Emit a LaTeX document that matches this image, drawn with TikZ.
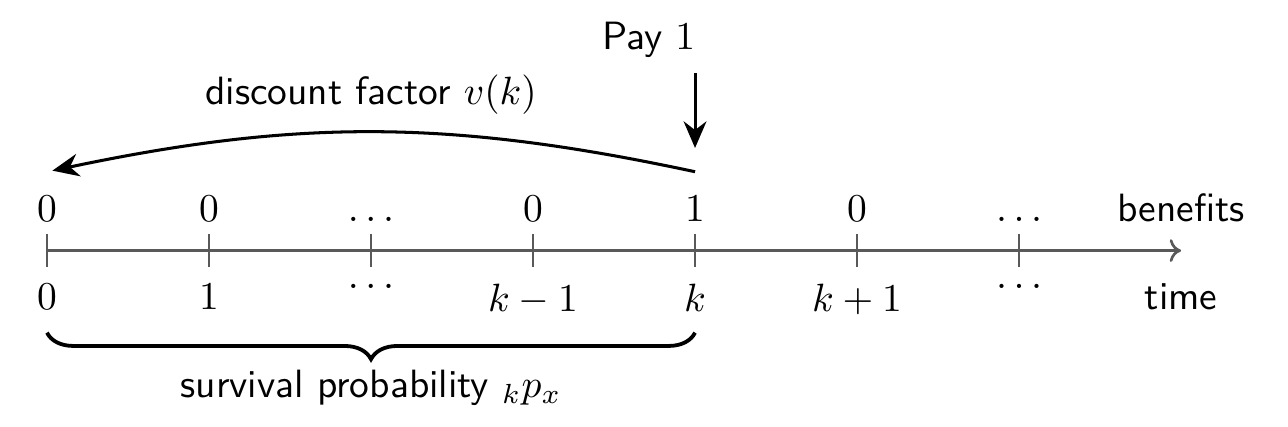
\documentclass[tikz,border=0pt]{standalone}
\usetikzlibrary{arrows.meta, decorations.pathreplacing}

\begin{document}
\begin{tikzpicture}[x=1cm,y=1cm,font=\sffamily,every node/.append style={scale=1.04}]
\useasboundingbox (-0.4350,-1.6300) rectangle (11.4900,2.3200);
\tikzset{axisline/.style={draw=black!65, line width=0.7pt},
  bigarrow/.style={line width=0.8pt, -{Stealth[length=7pt,width=6pt]}}}
% time axis
\coordinate (axstart) at (0,0);
\coordinate (axend) at (10.5000,0);
\draw[axisline, -{To[length=3pt,width=6pt]}] (axstart) -- (axend);
\draw[axisline] (0.0000,-0.1500) -- (0.0000,0.1500);
\draw[axisline] (1.5000,-0.1500) -- (1.5000,0.1500);
\draw[axisline] (3.0000,-0.1500) -- (3.0000,0.1500);
\draw[axisline] (4.5000,-0.1500) -- (4.5000,0.1500);
\draw[axisline] (6.0000,-0.1500) -- (6.0000,0.1500);
\draw[axisline] (7.5000,-0.1500) -- (7.5000,0.1500);
\draw[axisline] (9.0000,-0.1500) -- (9.0000,0.1500);
% benefits
\node[above] (b0) at (0.0000,0.1400) {$0$};
\node[above] (b1) at (1.5000,0.1400) {$0$};
\node[above] (b2) at (3.0000,0.1400) {$\dots$};
\node[above] (b3) at (4.5000,0.1400) {$0$};
\node[above] (b4) at (6.0000,0.1400) {$1$};
\node[above] (b5) at (7.5000,0.1400) {$0$};
\node[above] (b6) at (9.0000,0.1400) {$\dots$};
\node[above] (benefits) at (10.5000,0.1400) {benefits};
% time
\node[below] (t0) at (0.0000,-0.1800) {$0$};
\node[below] (t1) at (1.5000,-0.1800) {$1$};
\node[below] (t2) at (3.0000,-0.1800) {$\dots$};
\node[below] (t3) at (4.5000,-0.1800) {$k-1$};
\node[below] (t4) at (6.0000,-0.1800) {$k$};
\node[below] (t5) at (7.5000,-0.1800) {$k+1$};
\node[below] (t6) at (9.0000,-0.1800) {$\dots$};
\node[below] (time) at (10.5000,-0.1800) {time};
% payment and discounting
\node (pay) at (5.5700,1.9500) {Pay $1$};
\coordinate (payfrom) at (6.0000,1.6400);
\coordinate (payto) at (6.0000,0.9500);
\draw[bigarrow] (payfrom) -- (payto);
\coordinate (discfrom) at (6.0000,0.7300);
\coordinate (discto) at (0.0500,0.7400);
\draw[bigarrow] (discfrom) to[bend right=12] (discto);
\node (discount) at (3.0000,1.4400) {discount factor $v(k)$};
% survival
\coordinate (bracel) at (0.0000,-0.7600);
\coordinate (bracer) at (6.0000,-0.7600);
\draw[line width=1pt, decorate, decoration={brace, mirror, amplitude=7pt}] (bracel) -- (bracer);
\node (survival) at (3.0000,-1.2700) {survival probability ${}_kp_x$};
\end{tikzpicture}
\end{document}
